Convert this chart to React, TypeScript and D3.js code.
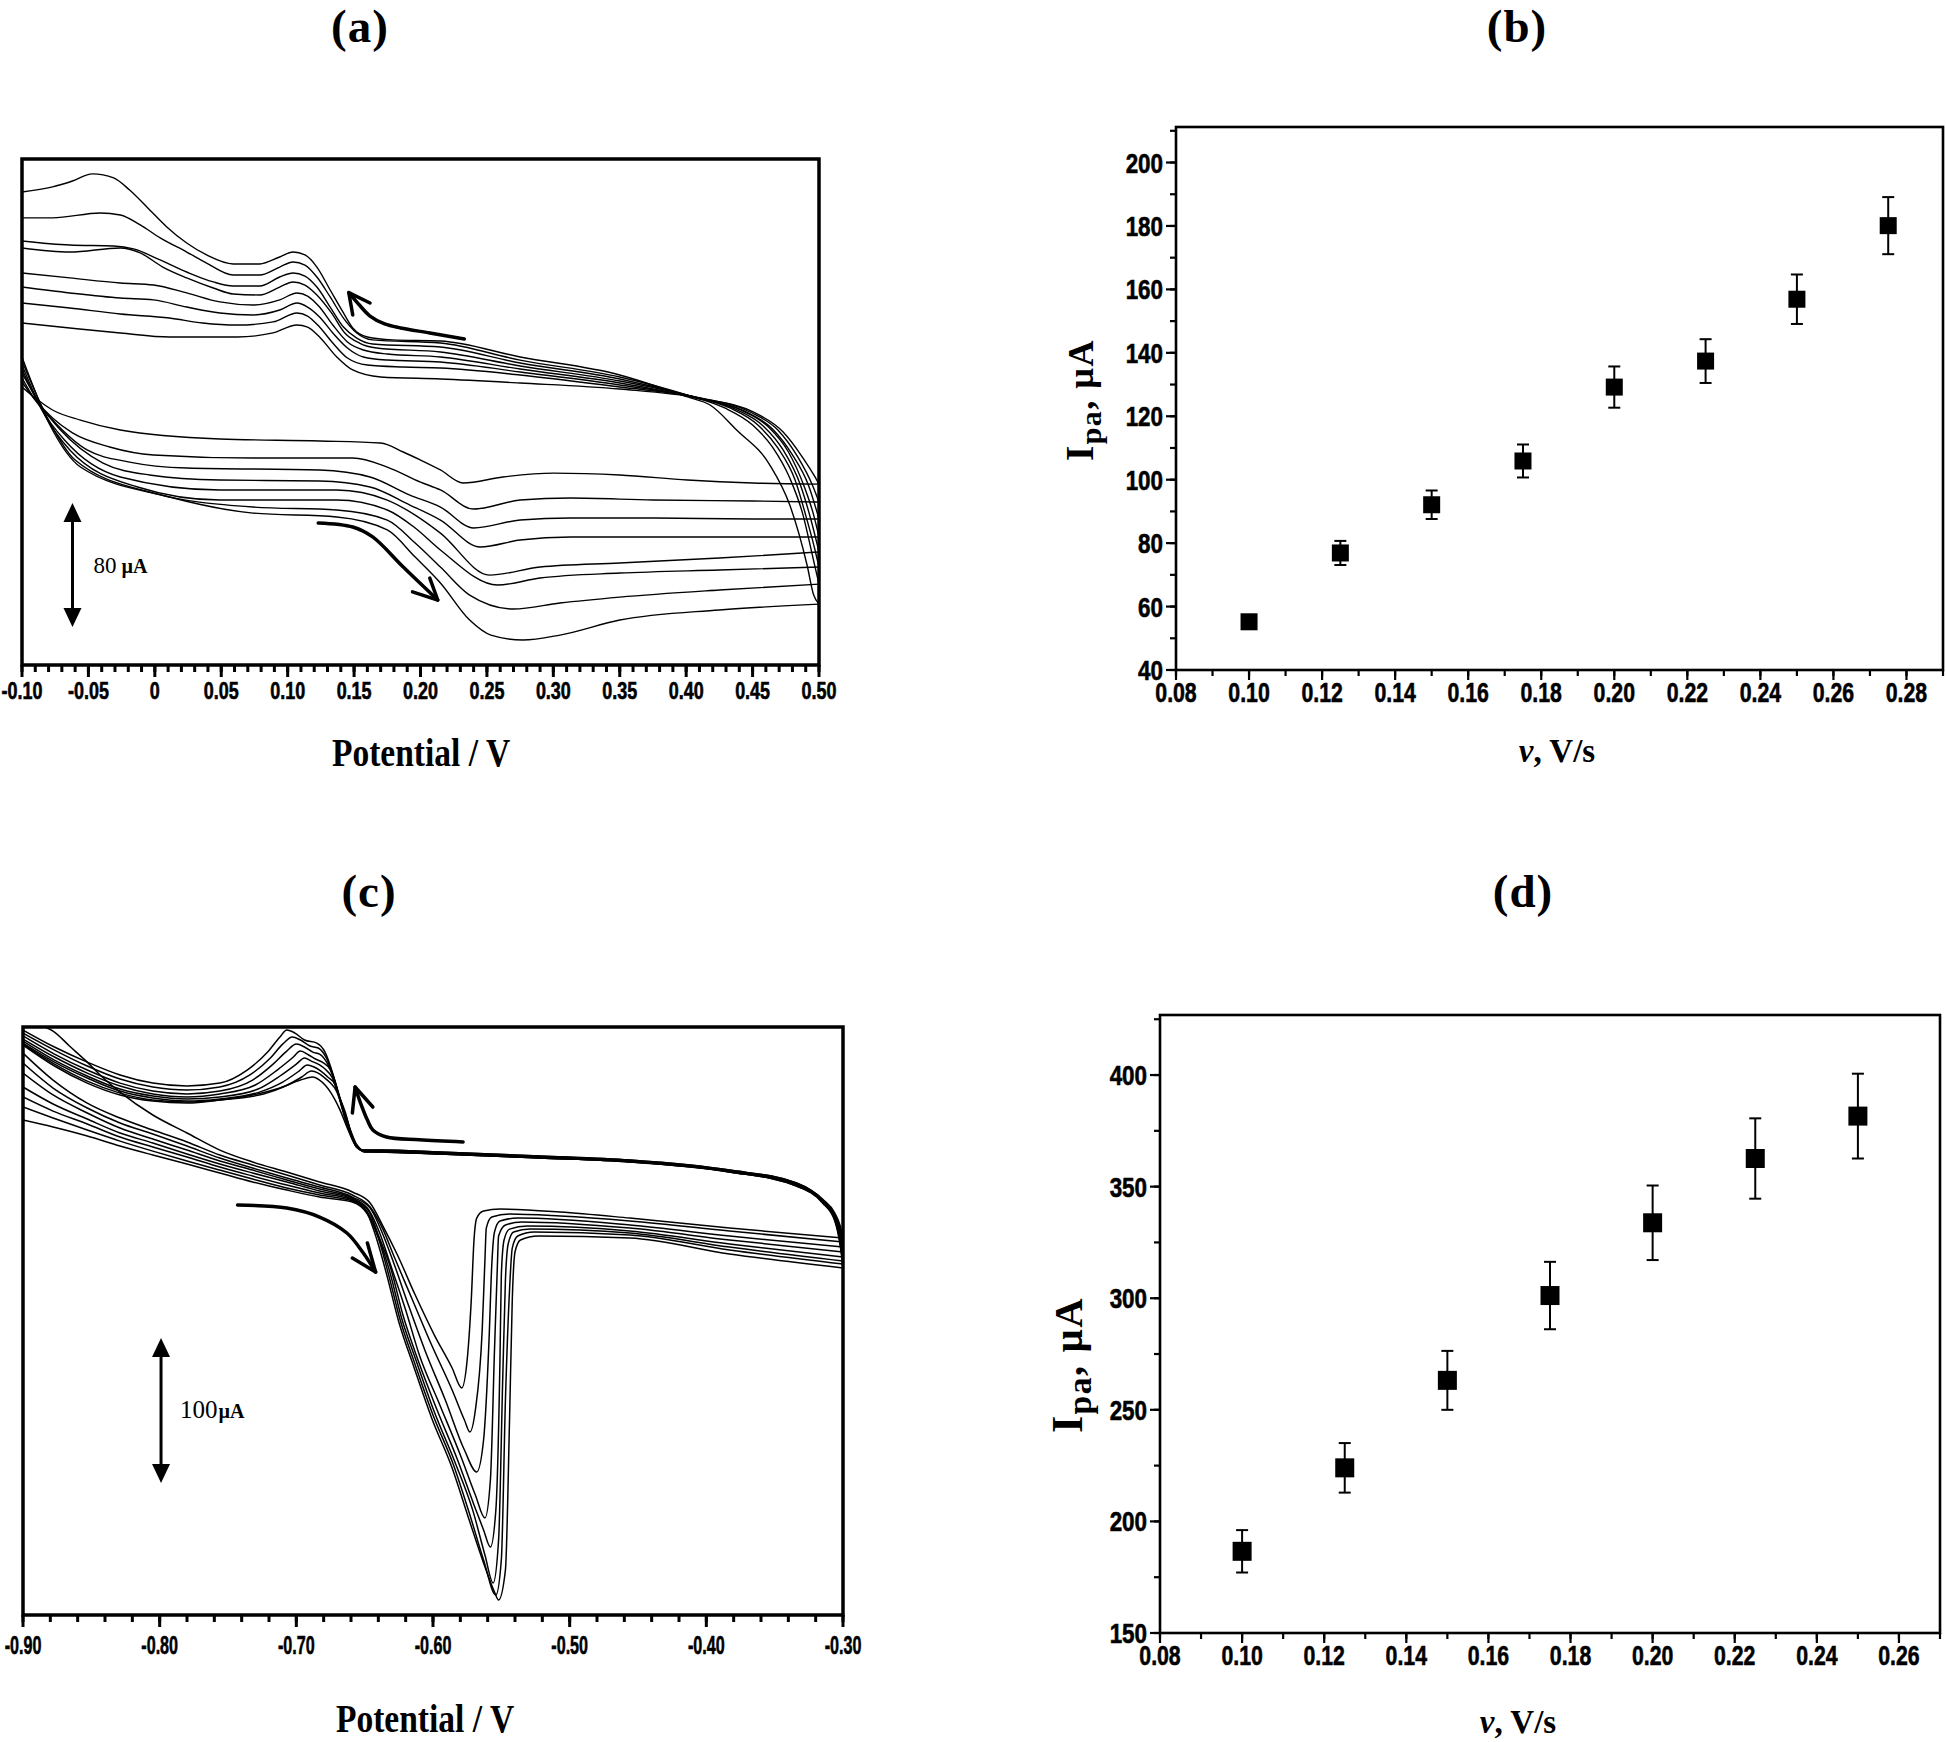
import React from "react";
import * as d3 from "d3";

type Pt = [number, number];

// ================= Panel (a): CV, potential (V) vs current (µA) =================
const aPotTicks = [-0.1, -0.05, 0, 0.05, 0.1, 0.15, 0.2, 0.25, 0.3, 0.35, 0.4, 0.45, 0.5];
const aPotLabels = ["-0.10", "-0.05", "0", "0.05", "0.10", "0.15", "0.20", "0.25", "0.30", "0.35", "0.40", "0.45", "0.50"];

const aLow1: Pt[] = [[-0.1,16.1],[-0.09,9.0],[-0.077,1.3],[-0.056,-5.2],[-0.026,-11.6],[0.049,-17.4],[0.124,-18.7],[0.17,-20.0],[0.187,-25.8],[0.2,-31.0],[0.215,-37.4],[0.232,-45.8],[0.262,-41.9],[0.3,-39.4],[0.35,-40.6],[0.401,-43.9],[0.45,-45.8],[0.5,-46.5]];
const aLow2: Pt[] = [[-0.1,19.4],[-0.09,7.7],[-0.077,-3.9],[-0.062,-13.5],[-0.034,-22.6],[-0.001,-27.7],[0.074,-29.7],[0.149,-29.7],[0.175,-35.5],[0.2,-45.2],[0.215,-50.3],[0.24,-62.6],[0.275,-56.8],[0.313,-55.5],[0.375,-56.8],[0.45,-57.4],[0.5,-58.1]];
const aLow3: Pt[] = [[-0.1,21.9],[-0.09,7.7],[-0.077,-5.2],[-0.051,-24.5],[-0.019,-32.3],[0.024,-36.1],[0.124,-37.4],[0.162,-41.9],[0.192,-53.6],[0.215,-61.3],[0.24,-74.8],[0.275,-69.7],[0.313,-68.4],[0.375,-68.4],[0.45,-69.0],[0.5,-69.0]];
const aLow4: Pt[] = [[-0.1,25.2],[-0.086,4.5],[-0.071,-11.6],[-0.039,-32.9],[-0.004,-40.6],[0.049,-43.9],[0.124,-44.5],[0.162,-48.4],[0.192,-60.0],[0.215,-69.7],[0.245,-87.1],[0.275,-82.6],[0.313,-80.6],[0.375,-80.6],[0.45,-80.6],[0.5,-80.6]];
const aLow5: Pt[] = [[-0.1,27.7],[-0.085,1.3],[-0.068,-18.1],[-0.026,-41.9],[0.049,-50.3],[0.137,-50.3],[0.175,-56.8],[0.196,-66.5],[0.215,-78.1],[0.252,-105.2],[0.29,-100.0],[0.35,-97.4],[0.425,-94.2],[0.5,-90.3]];
const aLow6: Pt[] = [[-0.1,30.3],[-0.083,-1.9],[-0.064,-24.5],[-0.013,-48.4],[0.049,-56.8],[0.137,-56.8],[0.175,-63.2],[0.196,-74.8],[0.215,-89.0],[0.258,-111.6],[0.29,-107.1],[0.35,-103.9],[0.425,-101.9],[0.5,-100.0]];
const aLow7: Pt[] = [[-0.1,32.9],[-0.08,-5.2],[-0.06,-31.0],[-0.001,-52.3],[0.074,-61.3],[0.137,-63.2],[0.175,-69.7],[0.196,-84.5],[0.215,-100.0],[0.237,-118.1],[0.27,-127.1],[0.305,-123.2],[0.35,-119.4],[0.425,-114.8],[0.5,-111.0]];
const aLow8: Pt[] = [[-0.1,35.5],[-0.079,-8.4],[-0.056,-35.5],[0.011,-54.8],[0.074,-65.2],[0.137,-67.7],[0.175,-76.1],[0.196,-93.6],[0.215,-110.3],[0.237,-134.2],[0.253,-143.9],[0.277,-147.1],[0.305,-143.9],[0.35,-134.2],[0.425,-127.7],[0.5,-123.9]];

const aUp1: Pt[] = [[-0.1,141.9],[-0.077,145.2],[-0.062,149.0],[-0.047,153.6],[-0.031,151.0],[-0.019,143.2],[-0.006,132.3],[0.009,119.4],[0.024,109.0],[0.039,101.3],[0.059,95.5],[0.079,95.5],[0.094,100.0],[0.104,103.2],[0.113,101.3],[0.122,93.5],[0.132,78.7],[0.142,63.9],[0.149,54.2],[0.16,48.4],[0.179,46.5],[0.215,45.8],[0.275,35.5],[0.35,23.9],[0.401,9.7],[0.418,4.5],[0.438,-11.6],[0.463,-34.2],[0.478,-60.0],[0.491,-98.7],[0.496,-118.1],[0.5,-123.9]];
const aUp2: Pt[] = [[-0.1,125.2],[-0.077,125.2],[-0.041,128.4],[-0.026,127.1],[-0.011,120.7],[0.004,112.3],[0.024,103.2],[0.039,96.1],[0.059,88.4],[0.079,88.4],[0.094,93.5],[0.104,96.8],[0.113,94.8],[0.122,87.1],[0.132,74.2],[0.142,60.6],[0.152,51.0],[0.164,46.5],[0.215,44.5],[0.275,33.5],[0.35,22.6],[0.403,10.3],[0.429,2.6],[0.45,-8.4],[0.465,-22.6],[0.478,-42.6],[0.488,-66.5],[0.495,-92.3],[0.5,-111.0]];
const aUp3: Pt[] = [[-0.1,110.3],[-0.064,107.7],[-0.031,107.1],[-0.016,105.2],[0.004,98.1],[0.024,90.3],[0.044,83.9],[0.059,81.3],[0.079,81.3],[0.094,87.1],[0.104,89.7],[0.113,87.7],[0.122,80.6],[0.132,67.7],[0.142,54.8],[0.152,47.7],[0.164,43.9],[0.215,41.9],[0.275,31.6],[0.35,21.3],[0.403,10.3],[0.433,2.6],[0.454,-8.4],[0.469,-23.2],[0.482,-43.9],[0.491,-69.7],[0.497,-89.0],[0.5,-100.0]];
const aUp4: Pt[] = [[-0.1,105.8],[-0.064,103.2],[-0.026,105.8],[-0.011,102.6],[0.006,93.5],[0.024,86.5],[0.044,80.0],[0.059,76.1],[0.079,75.5],[0.094,80.6],[0.104,83.9],[0.113,81.9],[0.122,75.5],[0.133,63.9],[0.143,51.0],[0.154,44.5],[0.167,41.3],[0.215,38.7],[0.275,29.7],[0.35,20.0],[0.403,10.3],[0.437,1.9],[0.458,-9.0],[0.473,-24.5],[0.486,-47.1],[0.494,-69.7],[0.5,-90.3]];
const aUp5: Pt[] = [[-0.1,89.7],[-0.064,86.5],[-0.026,83.2],[-0.001,81.9],[0.024,76.8],[0.049,71.0],[0.074,69.0],[0.094,72.3],[0.107,76.8],[0.115,74.8],[0.124,67.7],[0.134,56.1],[0.145,45.2],[0.157,40.0],[0.175,37.4],[0.215,35.5],[0.275,27.7],[0.35,18.7],[0.404,9.7],[0.441,1.3],[0.462,-9.7],[0.477,-25.8],[0.489,-48.4],[0.496,-66.5],[0.5,-80.6]];
const aUp6: Pt[] = [[-0.1,80.6],[-0.064,76.8],[-0.026,73.5],[-0.001,72.3],[0.024,67.7],[0.049,63.9],[0.074,62.6],[0.094,65.8],[0.107,70.3],[0.115,67.7],[0.124,61.3],[0.134,51.0],[0.145,41.3],[0.157,35.5],[0.175,33.5],[0.215,32.3],[0.275,25.8],[0.35,17.4],[0.405,9.7],[0.444,0.6],[0.465,-11.0],[0.48,-27.7],[0.492,-47.1],[0.5,-69.0]];
const aUp7: Pt[] = [[-0.1,70.3],[-0.064,67.1],[-0.026,63.2],[0.011,60.6],[0.036,57.4],[0.062,56.1],[0.089,58.1],[0.107,63.9],[0.115,61.9],[0.124,54.8],[0.134,44.5],[0.145,34.8],[0.16,30.3],[0.187,29.0],[0.215,28.4],[0.275,23.9],[0.35,16.1],[0.407,9.7],[0.448,0.0],[0.469,-11.6],[0.484,-29.0],[0.495,-47.1],[0.5,-58.1]];
const aUp8: Pt[] = [[-0.1,57.4],[-0.064,54.2],[-0.026,51.0],[0.011,48.4],[0.062,48.4],[0.089,51.0],[0.107,56.1],[0.115,54.8],[0.124,48.4],[0.137,35.5],[0.149,27.1],[0.17,22.6],[0.215,21.3],[0.275,18.7],[0.35,14.8],[0.409,9.0],[0.452,-0.6],[0.473,-12.9],[0.488,-29.7],[0.497,-41.9],[0.5,-46.5]];

const aArrowUp: Pt[] = [[0.233,47.1],[0.207,51.0],[0.185,54.2],[0.173,56.8],[0.162,61.9],[0.154,69.0],[0.146,77.0]];
const aArrowUpHead: Pt[] = [[0.162,70.3],[0.146,77.0],[0.149,62.6]];
const aArrowDown: Pt[] = [[0.123,-71.6],[0.149,-74.2],[0.164,-80.6],[0.187,-100.0],[0.213,-121.3]];
const aArrowDownHead: Pt[] = [[0.194,-116.0],[0.213,-121.3],[0.207,-107.1]];
const aBarPot = -0.062;
const aBarTop = -58.7;
const aBarSpan = 80;

// ================= Panel (c): CV =================
const cPotTicks = [-0.9, -0.8, -0.7, -0.6, -0.5, -0.4, -0.3];
const cPotLabels = ["-0.90", "-0.80", "-0.70", "-0.60", "-0.50", "-0.40", "-0.30"];

const cLow1: Pt[] = [[-0.884,202.8],[-0.878,200.0],[-0.866,189.7],[-0.853,178.6],[-0.842,168.3],[-0.829,157.9],[-0.805,142.1],[-0.78,129.7],[-0.756,117.9],[-0.732,109.7],[-0.707,102.8],[-0.683,95.9],[-0.659,89.0],[-0.646,81.4],[-0.637,66.2],[-0.626,45.5],[-0.613,17.9],[-0.599,-9.7],[-0.586,-32.4],[-0.579,-46.2],[-0.575,-26.9],[-0.572,14.5],[-0.57,55.9],[-0.568,71.0],[-0.563,75.9],[-0.551,77.2],[-0.507,75.2],[-0.456,71.0],[-0.383,64.1],[-0.3,57.2]];
const cLow2: Pt[] = [[-0.9,184.8],[-0.878,166.2],[-0.853,150.3],[-0.829,140.0],[-0.805,131.7],[-0.78,123.5],[-0.756,114.5],[-0.732,107.6],[-0.707,100.7],[-0.683,93.8],[-0.659,86.9],[-0.646,78.6],[-0.637,64.1],[-0.628,43.4],[-0.615,14.5],[-0.601,-16.6],[-0.586,-47.6],[-0.577,-68.3],[-0.573,-76.6],[-0.569,-61.4],[-0.564,-6.2],[-0.562,42.1],[-0.561,64.1],[-0.557,71.7],[-0.544,73.8],[-0.507,72.4],[-0.456,69.0],[-0.383,62.1],[-0.3,54.5]];
const cLow3: Pt[] = [[-0.9,177.9],[-0.878,160.7],[-0.853,146.9],[-0.829,136.6],[-0.805,129.0],[-0.78,120.7],[-0.756,112.4],[-0.732,105.5],[-0.707,98.6],[-0.683,92.4],[-0.659,85.5],[-0.646,77.9],[-0.638,62.8],[-0.629,40.7],[-0.618,11.0],[-0.606,-20.0],[-0.591,-54.5],[-0.577,-89.0],[-0.568,-104.1],[-0.563,-82.1],[-0.559,-13.1],[-0.557,38.6],[-0.555,61.4],[-0.551,69.0],[-0.538,71.0],[-0.456,66.2],[-0.383,58.6],[-0.3,51.0]];
const cLow4: Pt[] = [[-0.9,171.0],[-0.878,155.9],[-0.853,143.5],[-0.829,133.1],[-0.805,125.5],[-0.78,117.9],[-0.756,110.4],[-0.732,104.1],[-0.707,97.2],[-0.683,91.0],[-0.659,84.8],[-0.647,76.6],[-0.639,60.7],[-0.631,38.6],[-0.62,7.6],[-0.61,-23.4],[-0.595,-57.9],[-0.58,-92.4],[-0.569,-120.0],[-0.562,-135.9],[-0.558,-109.7],[-0.555,-20.0],[-0.553,35.2],[-0.552,58.6],[-0.547,66.2],[-0.535,68.3],[-0.456,64.1],[-0.383,55.9],[-0.3,47.6]];
const cLow5: Pt[] = [[-0.9,161.4],[-0.878,149.7],[-0.853,139.3],[-0.829,129.7],[-0.805,122.8],[-0.78,115.2],[-0.756,108.3],[-0.732,102.1],[-0.707,95.9],[-0.683,89.7],[-0.659,84.1],[-0.647,75.9],[-0.64,59.3],[-0.631,36.6],[-0.622,4.1],[-0.611,-26.9],[-0.597,-61.4],[-0.582,-95.9],[-0.57,-126.9],[-0.563,-144.1],[-0.558,-155.9],[-0.554,-130.3],[-0.551,-26.9],[-0.55,31.7],[-0.548,55.9],[-0.544,63.4],[-0.531,65.5],[-0.456,62.1],[-0.383,53.1],[-0.3,44.1]];
const cLow6: Pt[] = [[-0.9,154.5],[-0.878,144.8],[-0.853,135.9],[-0.829,126.9],[-0.805,120.0],[-0.78,113.1],[-0.756,106.2],[-0.732,100.0],[-0.707,93.8],[-0.683,88.3],[-0.659,83.5],[-0.648,75.2],[-0.64,57.9],[-0.632,35.2],[-0.623,2.1],[-0.612,-28.3],[-0.599,-62.8],[-0.584,-97.2],[-0.571,-130.3],[-0.562,-161.4],[-0.556,-180.7],[-0.552,-151.0],[-0.549,-40.7],[-0.547,28.3],[-0.545,53.1],[-0.541,61.4],[-0.529,63.4],[-0.456,60.7],[-0.383,51.0],[-0.3,41.4]];
const cLow7: Pt[] = [[-0.9,147.6],[-0.878,140.0],[-0.853,131.7],[-0.829,124.1],[-0.805,117.2],[-0.78,110.4],[-0.756,104.1],[-0.732,97.9],[-0.707,91.7],[-0.683,86.9],[-0.659,82.8],[-0.648,74.5],[-0.64,57.2],[-0.633,33.8],[-0.624,0.7],[-0.613,-30.3],[-0.6,-64.8],[-0.585,-99.3],[-0.573,-133.8],[-0.563,-164.8],[-0.554,-189.0],[-0.55,-164.8],[-0.547,-54.5],[-0.544,21.4],[-0.542,50.3],[-0.538,58.6],[-0.526,61.4],[-0.456,59.3],[-0.383,49.0],[-0.3,39.3]];
const cLow8: Pt[] = [[-0.9,138.6],[-0.878,133.8],[-0.853,127.6],[-0.829,120.7],[-0.805,114.5],[-0.78,108.3],[-0.756,102.1],[-0.732,95.9],[-0.707,90.3],[-0.683,85.5],[-0.659,82.1],[-0.648,73.8],[-0.641,55.9],[-0.634,32.4],[-0.625,-0.7],[-0.614,-31.7],[-0.601,-66.9],[-0.586,-101.4],[-0.574,-135.9],[-0.563,-166.9],[-0.555,-186.9],[-0.552,-192.4],[-0.547,-171.7],[-0.544,-68.3],[-0.542,14.5],[-0.54,47.6],[-0.536,55.9],[-0.523,58.6],[-0.456,57.2],[-0.383,46.2],[-0.3,36.6]];

const cUp1: Pt[] = [[-0.9,200.7],[-0.877,189.0],[-0.853,178.6],[-0.829,169.7],[-0.805,164.1],[-0.78,162.1],[-0.756,164.1],[-0.736,173.1],[-0.721,185.5],[-0.712,195.9],[-0.707,200.7],[-0.701,198.6],[-0.694,193.8],[-0.685,191.7],[-0.679,185.5],[-0.673,169.7],[-0.668,152.4],[-0.663,135.2],[-0.657,121.4],[-0.652,117.9],[-0.639,117.9],[-0.595,116.6],[-0.522,113.8],[-0.456,111.0],[-0.383,104.1],[-0.334,95.2],[-0.315,84.1],[-0.306,74.5],[-0.302,65.5],[-0.3,57.2]];
const cUp2: Pt[] = [[-0.9,198.6],[-0.877,186.9],[-0.853,175.9],[-0.829,166.9],[-0.805,161.4],[-0.78,159.3],[-0.756,161.4],[-0.734,169.7],[-0.719,181.4],[-0.71,191.0],[-0.703,195.9],[-0.697,193.8],[-0.69,189.7],[-0.684,188.3],[-0.678,181.4],[-0.672,166.2],[-0.667,150.3],[-0.662,133.8],[-0.656,120.7],[-0.651,117.9],[-0.639,117.9],[-0.595,116.6],[-0.522,113.8],[-0.456,111.0],[-0.383,104.1],[-0.334,95.2],[-0.315,83.5],[-0.306,73.1],[-0.302,63.4],[-0.3,54.5]];
const cUp3: Pt[] = [[-0.9,196.6],[-0.877,184.1],[-0.853,173.1],[-0.829,164.1],[-0.805,158.6],[-0.78,156.6],[-0.756,158.6],[-0.732,166.2],[-0.717,177.2],[-0.707,186.2],[-0.7,191.0],[-0.694,189.0],[-0.688,185.5],[-0.683,184.1],[-0.677,177.2],[-0.671,162.8],[-0.667,148.3],[-0.661,132.4],[-0.656,120.0],[-0.65,117.2],[-0.639,117.2],[-0.595,115.9],[-0.522,113.1],[-0.456,110.4],[-0.383,103.4],[-0.334,94.5],[-0.315,83.5],[-0.306,72.4],[-0.302,61.4],[-0.3,51.0]];
const cUp4: Pt[] = [[-0.9,194.5],[-0.877,182.1],[-0.853,171.0],[-0.829,162.1],[-0.805,156.6],[-0.78,154.5],[-0.756,156.6],[-0.73,162.8],[-0.714,173.1],[-0.703,181.4],[-0.697,186.2],[-0.691,183.5],[-0.686,180.7],[-0.681,178.6],[-0.675,173.1],[-0.67,159.3],[-0.666,146.2],[-0.661,131.0],[-0.656,120.0],[-0.65,117.2],[-0.639,117.2],[-0.595,115.9],[-0.522,113.1],[-0.456,110.4],[-0.383,103.4],[-0.334,94.5],[-0.315,82.8],[-0.306,71.7],[-0.302,58.6],[-0.3,47.6]];
const cUp5: Pt[] = [[-0.9,193.1],[-0.877,180.0],[-0.853,169.0],[-0.829,160.0],[-0.805,155.2],[-0.78,153.1],[-0.756,154.5],[-0.728,160.0],[-0.712,169.0],[-0.7,177.2],[-0.694,181.4],[-0.689,179.3],[-0.683,176.6],[-0.679,173.8],[-0.674,168.3],[-0.669,155.9],[-0.664,143.5],[-0.66,129.7],[-0.655,119.3],[-0.65,117.2],[-0.639,117.2],[-0.595,115.9],[-0.522,113.1],[-0.456,110.4],[-0.383,103.4],[-0.334,93.8],[-0.315,82.8],[-0.306,71.0],[-0.302,56.6],[-0.3,44.1]];
const cUp6: Pt[] = [[-0.9,191.7],[-0.877,178.6],[-0.853,167.6],[-0.829,158.6],[-0.805,153.8],[-0.78,151.7],[-0.756,153.1],[-0.727,157.9],[-0.71,164.8],[-0.698,172.4],[-0.692,176.6],[-0.687,175.2],[-0.682,172.4],[-0.677,168.3],[-0.672,163.5],[-0.668,153.1],[-0.664,141.4],[-0.659,128.3],[-0.654,118.6],[-0.65,116.6],[-0.639,116.6],[-0.595,115.2],[-0.522,112.4],[-0.456,109.7],[-0.383,102.8],[-0.334,93.8],[-0.315,82.1],[-0.306,70.3],[-0.302,54.5],[-0.3,41.4]];
const cUp7: Pt[] = [[-0.9,191.0],[-0.877,177.2],[-0.853,165.5],[-0.829,157.2],[-0.805,152.4],[-0.78,151.0],[-0.756,152.4],[-0.724,156.6],[-0.708,162.1],[-0.696,168.3],[-0.689,172.4],[-0.684,171.0],[-0.68,168.3],[-0.675,164.1],[-0.671,159.3],[-0.667,149.7],[-0.663,139.3],[-0.659,126.9],[-0.653,118.6],[-0.65,116.6],[-0.639,116.6],[-0.595,115.2],[-0.522,112.4],[-0.456,109.7],[-0.383,102.8],[-0.334,93.1],[-0.315,82.1],[-0.306,69.7],[-0.302,53.1],[-0.3,39.3]];
const cUp8: Pt[] = [[-0.9,190.4],[-0.877,175.9],[-0.853,164.1],[-0.829,155.9],[-0.805,151.7],[-0.78,150.3],[-0.756,152.4],[-0.732,155.9],[-0.712,160.7],[-0.697,166.2],[-0.688,168.3],[-0.683,166.2],[-0.675,157.9],[-0.668,145.5],[-0.662,131.7],[-0.656,120.7],[-0.65,117.2],[-0.639,116.6],[-0.595,115.2],[-0.522,112.4],[-0.456,109.7],[-0.383,102.8],[-0.334,93.1],[-0.315,81.4],[-0.306,69.0],[-0.302,51.7],[-0.3,36.6]];

const cArrowUp: Pt[] = [[-0.578,123.5],[-0.61,125.0],[-0.634,126.9],[-0.644,131.7],[-0.648,138.6],[-0.653,150.3],[-0.657,161.4]];
const cArrowUpHead: Pt[] = [[-0.644,147.6],[-0.657,161.4],[-0.659,143.5]];
const cArrowDown: Pt[] = [[-0.743,80.0],[-0.707,77.9],[-0.683,71.7],[-0.663,60.7],[-0.651,46.9],[-0.642,33.8]];
const cArrowDownHead: Pt[] = [[-0.659,43.4],[-0.642,33.8],[-0.648,53.8]];
const cBarPot = -0.799;
const cBarTop = -11.7;
const cBarSpan = 100;

// ================= Panel (b): Ipa vs scan rate =================
const bRate = [0.1, 0.125, 0.15, 0.175, 0.2, 0.225, 0.25, 0.275];
const bIpa = [55.2, 76.9, 92.1, 105.9, 129.2, 137.4, 156.9, 180.1];
const bErr = [2.0, 3.8, 4.5, 5.2, 6.5, 6.9, 7.8, 9.0];
const bXTicks = [0.08, 0.1, 0.12, 0.14, 0.16, 0.18, 0.2, 0.22, 0.24, 0.26, 0.28];
const bXLabels = ["0.08", "0.10", "0.12", "0.14", "0.16", "0.18", "0.20", "0.22", "0.24", "0.26", "0.28"];
const bYTicks = [40, 60, 80, 100, 120, 140, 160, 180, 200];

// ================= Panel (d): Ipa vs scan rate =================
const dRate = [0.1, 0.125, 0.15, 0.175, 0.2, 0.225, 0.25];
const dIpa = [186.6, 224.0, 263.2, 301.2, 333.8, 362.6, 381.6];
const dErr = [9.5, 11.1, 13.2, 15.1, 16.7, 18.0, 19.0];
const dXTicks = [0.08, 0.1, 0.12, 0.14, 0.16, 0.18, 0.2, 0.22, 0.24, 0.26];
const dXLabels = ["0.08", "0.10", "0.12", "0.14", "0.16", "0.18", "0.20", "0.22", "0.24", "0.26"];
const dYTicks = [150, 200, 250, 300, 350, 400];

const SERIF = "'Liberation Serif', 'Times New Roman', serif";
const SANS = "'Liberation Sans', Arial, sans-serif";

function Cond(props: { x: number; y: number; size: number; k: number; anchor?: string; children: React.ReactNode }) {
  const { x, y, size, k, anchor = "middle", children } = props;
  return (
    <text
      transform={`translate(${x},${y}) scale(${k},1)`}
      fontFamily={SANS}
      fontWeight={700}
      fontSize={size}
      textAnchor={anchor as any}
      stroke="#000"
      strokeWidth={0.6}
    >
      {children}
    </text>
  );
}

type Frame = { l: number; r: number; t: number; b: number };

function CVPanel(props: {
  id: string;
  frame: Frame;
  xDom: [number, number];
  yDom: [number, number];
  curves: Pt[][];
  majors: number[];
  labels: string[];
  minorStep: number;
  labelSize: number;
  labelK: number;
  labelY: number;
  arrows: { body: Pt[]; head: Pt[] }[];
  bar: { pot: number; top: number; span: number; num: string; numSize: number; unitSize: number; dx: number; gap: string };
  lineW: number;
}) {
  const { frame: f } = props;
  const x = d3.scaleLinear().domain(props.xDom).range([f.l, f.r]);
  const y = d3.scaleLinear().domain(props.yDom).range([f.b, f.t]);
  const line = d3.line<Pt>().x((d) => x(d[0])).y((d) => y(d[1])).curve(d3.curveMonotoneX);
  const smooth = d3.line<Pt>().x((d) => x(d[0])).y((d) => y(d[1])).curve(d3.curveCatmullRom.alpha(0.5));
  const straight = d3.line<Pt>().x((d) => x(d[0])).y((d) => y(d[1]));
  const n = Math.round((props.xDom[1] - props.xDom[0]) / props.minorStep);
  const minors = d3.range(n + 1).map((i) => props.xDom[0] + i * props.minorStep);
  const bx = x(props.bar.pot);
  const by1 = y(props.bar.top);
  const by2 = y(props.bar.top - props.bar.span);
  return (
    <g>
      <defs>
        <clipPath id={props.id}>
          <rect x={f.l} y={f.t} width={f.r - f.l} height={f.b - f.t} />
        </clipPath>
      </defs>
      <g clipPath={`url(#${props.id})`} fill="none" stroke="#000" strokeWidth={props.lineW} strokeLinejoin="round">
        {props.curves.map((c, i) => (
          <path key={i} d={line(c) || ""} />
        ))}
      </g>
      {props.arrows.map((a, i) => (
        <g key={i} fill="none" stroke="#000" strokeWidth={3.5} strokeLinecap="round" strokeLinejoin="round">
          <path d={smooth(a.body) || ""} />
          <path d={straight(a.head) || ""} />
        </g>
      ))}
      {/* scale bar */}
      <line x1={bx} x2={bx} y1={by1 + 12} y2={by2 - 12} stroke="#000" strokeWidth={3} />
      <path d={`M${bx},${by1} L${bx - 9},${by1 + 19} L${bx + 9},${by1 + 19} Z`} fill="#000" />
      <path d={`M${bx},${by2} L${bx - 9},${by2 - 19} L${bx + 9},${by2 - 19} Z`} fill="#000" />
      <text x={bx + props.bar.dx} y={(by1 + by2) / 2 + 8} fontFamily={SERIF} fontSize={props.bar.numSize}>
        {props.bar.num}
        <tspan fontWeight={700} fontSize={props.bar.unitSize} dx={props.bar.gap}>µA</tspan>
      </text>
      {/* ticks */}
      <g stroke="#000" strokeWidth={3}>
        {minors.map((v, i) => (
          <line key={i} x1={x(v)} x2={x(v)} y1={f.b} y2={f.b + 7} />
        ))}
        {props.majors.map((v, i) => (
          <line key={i} x1={x(v)} x2={x(v)} y1={f.b} y2={f.b + 12} />
        ))}
      </g>
      <rect x={f.l} y={f.t} width={f.r - f.l} height={f.b - f.t} fill="none" stroke="#000" strokeWidth={3.5} />
      {props.majors.map((v, i) => (
        <Cond key={i} x={x(v)} y={props.labelY} size={props.labelSize} k={props.labelK}>
          {props.labels[i]}
        </Cond>
      ))}
    </g>
  );
}

function ScatterPanel(props: {
  frame: Frame;
  xDom: [number, number];
  yDom: [number, number];
  rate: number[];
  ipa: number[];
  err: number[];
  xTicks: number[];
  xLabels: string[];
  xMinorStep: number;
  yTicks: number[];
  yMinorStep: number;
  sq: number;
}) {
  const f = props.frame;
  const x = d3.scaleLinear().domain(props.xDom).range([f.l, f.r]);
  const y = d3.scaleLinear().domain(props.yDom).range([f.b, f.t]);
  const nx = Math.floor((props.xDom[1] - props.xDom[0]) / props.xMinorStep + 1e-6);
  const xMin = d3.range(nx + 1).map((i) => props.xDom[0] + i * props.xMinorStep);
  const ny = Math.floor((props.yDom[1] - props.yDom[0]) / props.yMinorStep + 1e-6);
  const yMin = d3.range(ny + 1).map((i) => props.yDom[0] + i * props.yMinorStep);
  return (
    <g>
      <g stroke="#000" strokeWidth={2.2}>
        {xMin.map((v, i) => (
          <line key={"xm" + i} x1={x(v)} x2={x(v)} y1={f.b} y2={f.b + 6} />
        ))}
        {props.xTicks.map((v, i) => (
          <line key={"xM" + i} x1={x(v)} x2={x(v)} y1={f.b} y2={f.b + 10} />
        ))}
        {yMin.map((v, i) => (
          <line key={"ym" + i} x1={f.l - 6} x2={f.l} y1={y(v)} y2={y(v)} />
        ))}
        {props.yTicks.map((v, i) => (
          <line key={"yM" + i} x1={f.l - 10} x2={f.l} y1={y(v)} y2={y(v)} />
        ))}
      </g>
      <rect x={f.l} y={f.t} width={f.r - f.l} height={f.b - f.t} fill="none" stroke="#000" strokeWidth={2.6} />
      {props.xTicks.map((v, i) => (
        <Cond key={"xl" + i} x={x(v)} y={f.b + 32} size={28} k={0.76}>
          {props.xLabels[i]}
        </Cond>
      ))}
      {props.yTicks.map((v, i) => (
        <Cond key={"yl" + i} x={f.l - 13} y={y(v) + 10} size={28} k={0.8} anchor="end">
          {String(v)}
        </Cond>
      ))}
      <g stroke="#000" strokeWidth={2}>
        {props.rate.map((r, i) => (
          <g key={i}>
            <line x1={x(r)} x2={x(r)} y1={y(props.ipa[i] - props.err[i])} y2={y(props.ipa[i] + props.err[i])} />
            <line x1={x(r) - 6} x2={x(r) + 6} y1={y(props.ipa[i] - props.err[i])} y2={y(props.ipa[i] - props.err[i])} />
            <line x1={x(r) - 6} x2={x(r) + 6} y1={y(props.ipa[i] + props.err[i])} y2={y(props.ipa[i] + props.err[i])} />
          </g>
        ))}
      </g>
      {props.rate.map((r, i) => (
        <rect key={"s" + i} x={x(r) - props.sq / 2} y={y(props.ipa[i]) - props.sq / 2} width={props.sq} height={props.sq} fill="#000" />
      ))}
    </g>
  );
}

function YTitle(props: { x: number; y: number; s: number }) {
  const s = props.s;
  return (
    <text
      transform={`translate(${props.x},${props.y}) rotate(-90)`}
      textAnchor="middle"
      fontFamily={SERIF}
      fontWeight={700}
      letterSpacing={1.5}
    >
      <tspan fontSize={38 * s}>I</tspan>
      <tspan fontSize={29 * s} dy={8 * s}>pa</tspan>
      <tspan fontSize={35 * s} dy={-8 * s}>, µA</tspan>
    </text>
  );
}

function XTitleRate(props: { x: number; y: number }) {
  return (
    <text x={props.x} y={props.y} textAnchor="middle" fontFamily={SERIF} fontWeight={700} fontSize={33}>
      <tspan fontStyle="italic">v</tspan>, V/s
    </text>
  );
}

function Potential(props: { x: number; y: number }) {
  return (
    <text transform={`translate(${props.x},${props.y}) scale(0.86,1)`} textAnchor="middle" fontFamily={SERIF} fontWeight={700} fontSize={39}>
      Potential / V
    </text>
  );
}

function Title(props: { x: number; y: number; t: string }) {
  return (
    <text x={props.x} y={props.y} textAnchor="middle" fontFamily={SERIF} fontWeight={700} fontSize={47} letterSpacing={1}>
      {props.t}
    </text>
  );
}

export default function App() {
  return (
    <svg width={1946} height={1742} style={{ position: "absolute", left: 0, top: 0, background: "#fff" }}>
      <rect x={0} y={0} width={1946} height={1742} fill="#fff" />
      <Title x={360} y={42} t="(a)" />
      <Title x={1517} y={42} t="(b)" />
      <Title x={369} y={907} t="(c)" />
      <Title x={1523} y={907} t="(d)" />

      <CVPanel
        id="clipA"
        frame={{ l: 22, r: 819, t: 159, b: 665 }}
        xDom={[-0.1, 0.5]}
        yDom={[-163.2, 163.2]}
        curves={[aUp1, aUp2, aUp3, aUp4, aUp5, aUp6, aUp7, aUp8, aLow1, aLow2, aLow3, aLow4, aLow5, aLow6, aLow7, aLow8]}
        majors={aPotTicks}
        labels={aPotLabels}
        minorStep={0.01}
        labelSize={23}
        labelK={0.78}
        labelY={699}
        arrows={[
          { body: aArrowUp, head: aArrowUpHead },
          { body: aArrowDown, head: aArrowDownHead },
        ]}
        bar={{ pot: aBarPot, top: aBarTop, span: aBarSpan, num: "80", numSize: 23, unitSize: 20, dx: 21, gap: "5" }}
        lineW={1.4}
      />
      <Potential x={421} y={766} />

      <CVPanel
        id="clipC"
        frame={{ l: 23, r: 843, t: 1027, b: 1615 }}
        xDom={[-0.9, -0.3]}
        yDom={[-202.8, 202.8]}
        curves={[cUp1, cUp2, cUp3, cUp4, cUp5, cUp6, cUp7, cUp8, cLow1, cLow2, cLow3, cLow4, cLow5, cLow6, cLow7, cLow8]}
        majors={cPotTicks}
        labels={cPotLabels}
        minorStep={0.02}
        labelSize={26}
        labelK={0.62}
        labelY={1654}
        arrows={[
          { body: cArrowUp, head: cArrowUpHead },
          { body: cArrowDown, head: cArrowDownHead },
        ]}
        bar={{ pot: cBarPot, top: cBarTop, span: cBarSpan, num: "100", numSize: 25, unitSize: 20, dx: 19, gap: "1" }}
        lineW={1.5}
      />
      <Potential x={425} y={1732} />

      <ScatterPanel
        frame={{ l: 1176, r: 1943, t: 127, b: 670 }}
        xDom={[0.08, 0.29]}
        yDom={[40, 211.2]}
        rate={bRate}
        ipa={bIpa}
        err={bErr}
        xTicks={bXTicks}
        xLabels={bXLabels}
        xMinorStep={0.01}
        yTicks={bYTicks}
        yMinorStep={10}
        sq={17}
      />
      <YTitle x={1093} y={400} s={1.03} />
      <XTitleRate x={1557} y={762} />

      <ScatterPanel
        frame={{ l: 1160, r: 1940, t: 1015, b: 1633 }}
        xDom={[0.08, 0.27]}
        yDom={[150, 426.9]}
        rate={dRate}
        ipa={dIpa}
        err={dErr}
        xTicks={dXTicks}
        xLabels={dXLabels}
        xMinorStep={0.01}
        yTicks={dYTicks}
        yMinorStep={25}
        sq={19}
      />
      <YTitle x={1082} y={1365} s={1.16} />
      <XTitleRate x={1518} y={1733} />
    </svg>
  );
}
